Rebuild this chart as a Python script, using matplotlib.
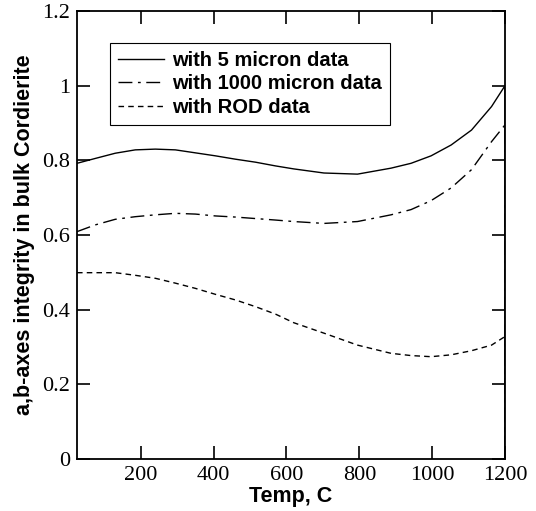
import matplotlib.pyplot as plt
from matplotlib.ticker import FormatStrFormatter

# temperature (C) and integrity values
# (the last point of each series drops to zero at 1200 C, as in the original)
temp = [25, 75, 130, 185, 240, 295, 350, 405, 460, 515, 570, 620, 703, 795,
        887, 942, 997, 1052, 1108, 1163, 1200, 1200]
micron5 = [0.792, 0.805, 0.819, 0.828, 0.830, 0.828, 0.820, 0.812, 0.803, 0.795, 0.785,
           0.777, 0.766, 0.763, 0.779, 0.792, 0.812, 0.841, 0.881, 0.944, 1.0, 0.0]
micron1000 = [0.609, 0.627, 0.642, 0.649, 0.654, 0.658, 0.656, 0.651, 0.648, 0.644, 0.640,
              0.636, 0.631, 0.636, 0.654, 0.668, 0.692, 0.726, 0.775, 0.850, 0.895, 0.0]
rod = [0.499, 0.499, 0.499, 0.492, 0.484, 0.471, 0.457, 0.441, 0.426, 0.408, 0.388,
       0.365, 0.337, 0.305, 0.283, 0.277, 0.274, 0.279, 0.290, 0.305, 0.328, 0.0]

labels = ['with 5 micron data', 'with 1000 micron data', 'with ROD data']
xticks = [200, 400, 600, 800, 1000, 1200]
yticks = [0, 0.2, 0.4, 0.6, 0.8, 1.0, 1.2]

fig = plt.figure(figsize=(5.36, 5.11), dpi=100)
ax = fig.add_axes([0.1437, 0.1018, 0.7985, 0.8767])

ax.plot(temp, micron5, color='black', lw=1.0, label=labels[0])
ax.plot(temp, micron1000, color='black', lw=1.0, dashes=(10, 4, 2, 4), label=labels[1])
ax.plot(temp, rod, color='black', lw=1.0, dashes=(4, 3), label=labels[2])

ax.set_xlim(25, 1200)
ax.set_ylim(0, 1.2)
ax.set_xticks(xticks)
ax.set_yticks(yticks)
ax.yaxis.set_major_formatter(FormatStrFormatter('%g'))

ax.tick_params(direction='in', length=9.5, width=1.2, top=True, right=True,
               labelsize=16, pad=5)
for lab in ax.get_xticklabels() + ax.get_yticklabels():
    lab.set_family('Liberation Serif')
for sp in ax.spines.values():
    sp.set_linewidth(1.3)

ax.set_xlabel('Temp, C', family='Liberation Sans', fontweight='bold', fontsize=15.5, labelpad=1)
ax.set_ylabel('a,b-axes integrity in bulk Cordierite', family='Liberation Sans',
              fontweight='bold', fontsize=15.5, labelpad=5)

leg = ax.legend(loc='upper left', bbox_to_anchor=(0.077, 0.9286), borderaxespad=0,
                fancybox=False, framealpha=1, edgecolor='black', handlelength=2.3,
                handletextpad=0.4, labelspacing=0.22,
                prop={'family': 'Liberation Sans', 'weight': 'bold', 'size': 14.5})
leg.get_frame().set_linewidth(0.8)

fig.savefig('out.png', dpi=100)
